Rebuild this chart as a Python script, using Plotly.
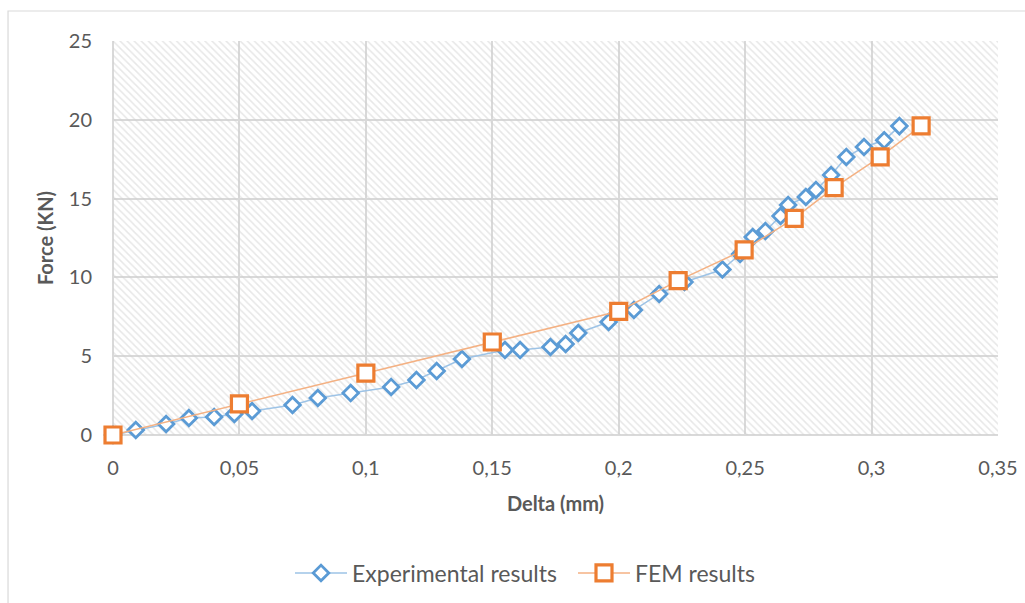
import plotly.graph_objects as go

# Experimental results
exp_delta = [0.0, 0.009, 0.021, 0.030, 0.040, 0.048, 0.055, 0.071, 0.081, 0.094, 0.110,
             0.120, 0.128, 0.138, 0.155, 0.161, 0.173, 0.179, 0.184, 0.196, 0.206,
             0.216, 0.226, 0.241, 0.248, 0.253, 0.258, 0.264, 0.267, 0.274, 0.278,
             0.284, 0.290, 0.297, 0.305, 0.311]
exp_force = [0.0, 0.32, 0.70, 1.08, 1.14, 1.33, 1.52, 1.90, 2.35, 2.66, 3.05,
             3.49, 4.06, 4.82, 5.39, 5.39, 5.58, 5.77, 6.47, 7.17, 7.93,
             8.95, 9.71, 10.50, 11.48, 12.56, 12.94, 13.90, 14.59, 15.10, 15.55,
             16.50, 17.64, 18.27, 18.70, 19.60]

# FEM results
fem_delta = [0.0, 0.05, 0.10, 0.15, 0.20, 0.2235, 0.2496, 0.2694, 0.2852, 0.3034, 0.3196]
fem_force = [0.0, 1.97, 3.93, 5.90, 7.85, 9.80, 11.75, 13.75, 15.70, 17.65, 19.62]

x_range = [0, 0.35]
y_range = [0, 25]

FONT = "Lato, 'Open Sans', sans-serif"
TXT = "#595959"
GRID = "#d9d9d9"

fig = go.Figure()

# hatched plot-area background
fig.add_trace(go.Scatter(
    x=[x_range[0], x_range[1], x_range[1], x_range[0], x_range[0]],
    y=[y_range[0], y_range[0], y_range[1], y_range[1], y_range[0]],
    mode="lines", line=dict(width=0, color="rgba(0,0,0,0)"),
    fill="toself", fillcolor="rgba(0,0,0,0)",
    fillpattern=dict(shape="\\", fgcolor="#d0d0d0", bgcolor="rgba(0,0,0,0)",
                     size=5, solidity=0.3),
    hoverinfo="skip", showlegend=False,
))

fig.add_trace(go.Scatter(
    x=exp_delta, y=exp_force, mode="lines+markers", name="Experimental results",
    line=dict(color="#9DC3E6", width=1.5), cliponaxis=False,
    marker=dict(symbol="diamond", size=12, color="white",
                line=dict(color="#5B9BD5", width=2.8)),
))

fig.add_trace(go.Scatter(
    x=fem_delta, y=fem_force, mode="lines+markers", name="FEM results",
    line=dict(color="#F4B183", width=1.5), cliponaxis=False,
    marker=dict(symbol="square", size=16, color="white",
                line=dict(color="#ED7D31", width=3.2)),
))

fig.update_layout(
    width=1025, height=603,
    paper_bgcolor="white", plot_bgcolor="white",
    margin=dict(l=113, r=27, t=41, b=168),
    separators=", ",
    font=dict(family=FONT, size=20, color=TXT),
    showlegend=True,
    legend=dict(orientation="h", x=0.2, xanchor="left",
                yref="container", y=0.0498, yanchor="middle",
                font=dict(family=FONT, size=23, color=TXT), itemwidth=52,
                entrywidth=216,
                bgcolor="rgba(0,0,0,0)"),
    xaxis=dict(range=x_range, dtick=0.05, tick0=0, showgrid=True, gridcolor=GRID,
               gridwidth=1.5, zeroline=True, zerolinecolor=GRID, zerolinewidth=1.5,
               showline=False, ticks="", ticklabelstandoff=19, automargin=False,
               tickfont=dict(family=FONT, size=20, color=TXT),
               title=dict(text="<b>Delta (mm)</b>", standoff=18,
                          font=dict(family=FONT, size=20, color=TXT))),
    yaxis=dict(range=y_range, dtick=5, tick0=0, showgrid=True, gridcolor=GRID,
               gridwidth=1.5, zeroline=True, zerolinecolor=GRID, zerolinewidth=1.5,
               showline=False, ticks="", ticklabelstandoff=20, automargin=False,
               tickfont=dict(family=FONT, size=20, color=TXT),
               title=dict(text="<b>Force (KN)</b>", standoff=9,
                          font=dict(family=FONT, size=20, color=TXT))),
    shapes=[dict(type="rect", xref="paper", yref="paper",
                 x0=-0.1186, x1=1.1, y0=-0.5, y1=1.0761,
                 line=dict(color="#d9d9d9", width=1.2), fillcolor="rgba(0,0,0,0)",
                 layer="below")],
)

fig.write_html("out.html", config={"displayModeBar": False},
               post_script=("document.body.style.margin='0';"
                            "document.body.style.padding='0';"
                            "document.body.style.overflow='hidden';"
                            "document.documentElement.style.overflow='hidden';"))
